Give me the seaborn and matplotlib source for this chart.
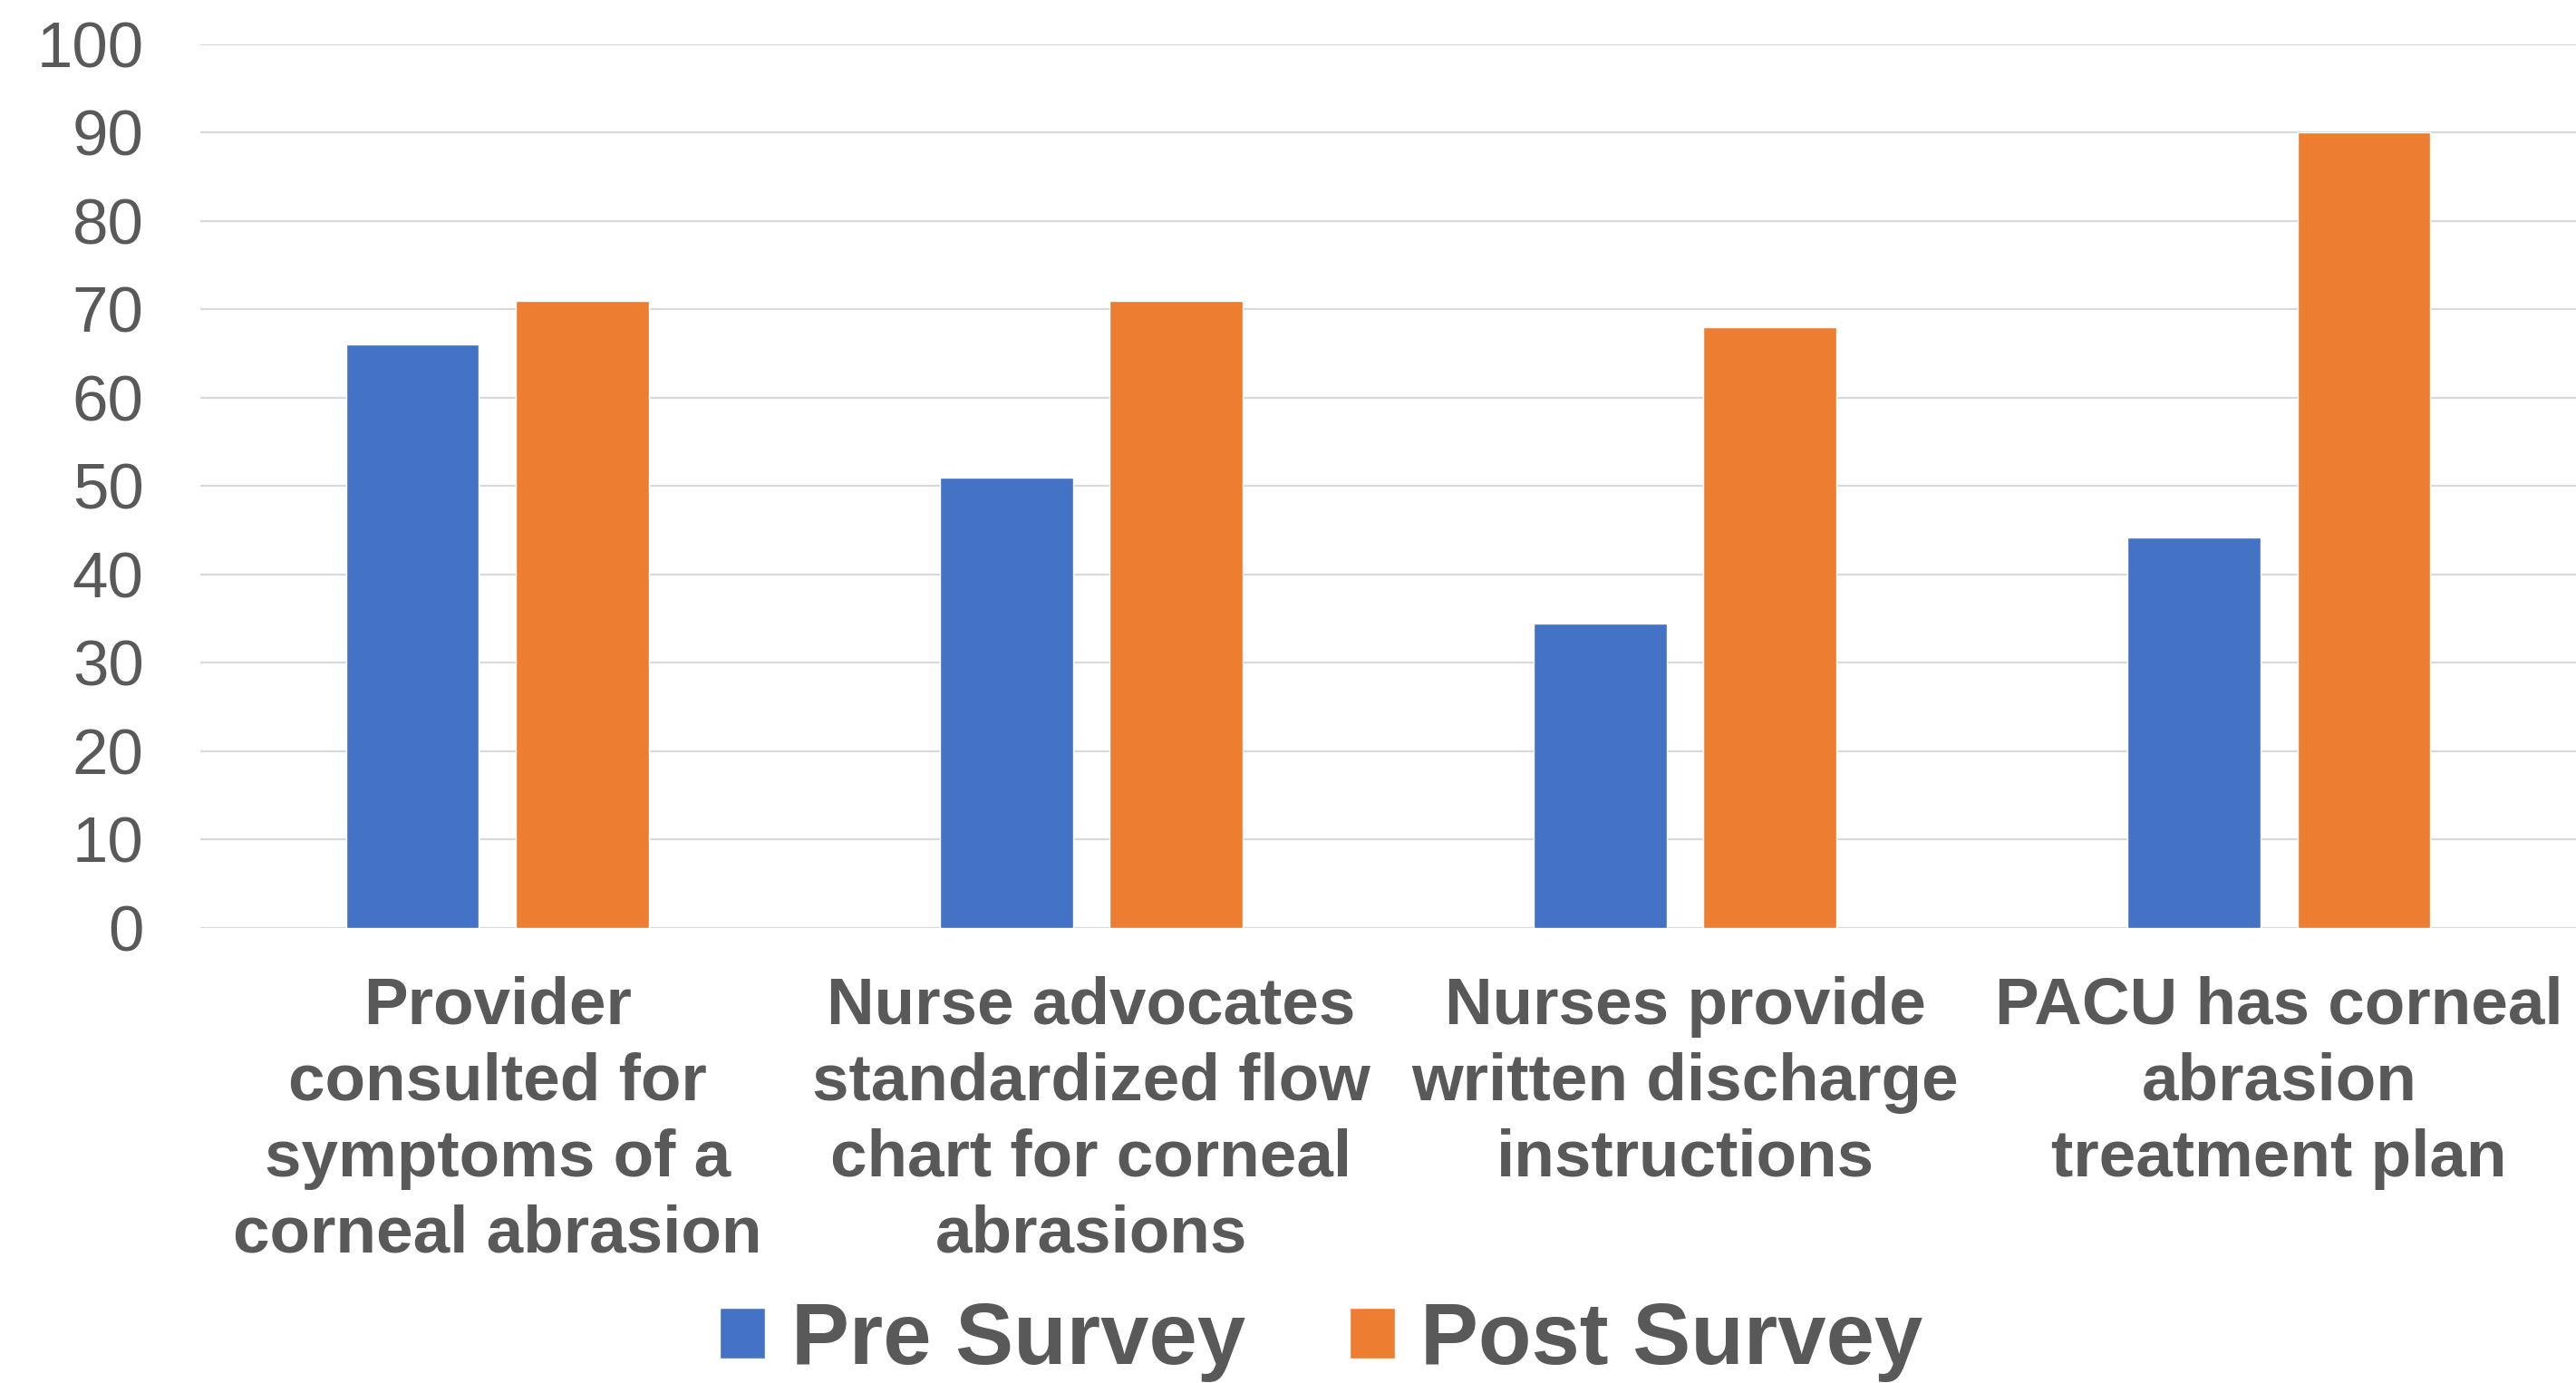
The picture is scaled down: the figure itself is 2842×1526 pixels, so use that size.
import pandas as pd
import matplotlib
matplotlib.use("Agg")
import matplotlib.pyplot as plt
import seaborn as sns

# data
categories = [
    "Provider\nconsulted for\nsymptoms of a\ncorneal abrasion",
    "Nurse advocates\nstandardized flow\nchart for corneal\nabrasions",
    "Nurses provide\nwritten discharge\ninstructions",
    "PACU has corneal\nabrasion\ntreatment plan",
]
pre_survey = [66, 51, 34.5, 44.2]
post_survey = [71, 71, 68, 90]
series_names = ["Pre Survey", "Post Survey"]
y_ticks = [0, 10, 20, 30, 40, 50, 60, 70, 80, 90, 100]

sns.set_style("white")
plt.rcParams['font.family'] = ['Liberation Sans', 'DejaVu Sans']

df = pd.DataFrame({
    "category": categories * 2,
    "value": pre_survey + post_survey,
    "survey": [series_names[0]] * 4 + [series_names[1]] * 4,
})

grey = "#595959"
fig = plt.figure(figsize=(28.42, 15.26), dpi=100)
ax = fig.add_axes([0.0778, 0.329, 0.9222, 0.639])

sns.barplot(
    data=df, x="category", y="value", hue="survey",
    palette=["#4472C4", "#ED7D31"], width=0.572, gap=0.217,
    saturation=1, ax=ax, legend=True,
)

ax.set_ylim(0, 100)
ax.set_xlim(-0.5, 3.5)
ax.set_yticks(y_ticks)
ax.yaxis.grid(True, color="#D9D9D9", linewidth=1.6)
ax.set_axisbelow(True)
for s in ax.spines.values():
    s.set_visible(False)
ax.set_xlabel("")
ax.set_ylabel("")

ax.tick_params(axis="y", length=0, pad=45, labelsize=51, labelcolor=grey)
ax.tick_params(axis="x", length=0, pad=38, labelsize=52.5, labelcolor=grey)
for lab in ax.get_xticklabels():
    lab.set_fontweight("bold")
    lab.set_linespacing(1.3)
    lab.set_horizontalalignment("center")

handles, labels = ax.get_legend_handles_labels()
ax.get_legend().remove()
fig.legend(
    handles, labels, loc="center", bbox_to_anchor=(0.513, 0.03),
    ncol=2, frameon=False, prop={"size": 69, "weight": "bold"},
    labelcolor=grey, handlelength=0.52, handleheight=0.52,
    handletextpad=0.3, columnspacing=1.2,
)

plt.savefig("out.png", dpi=100)
